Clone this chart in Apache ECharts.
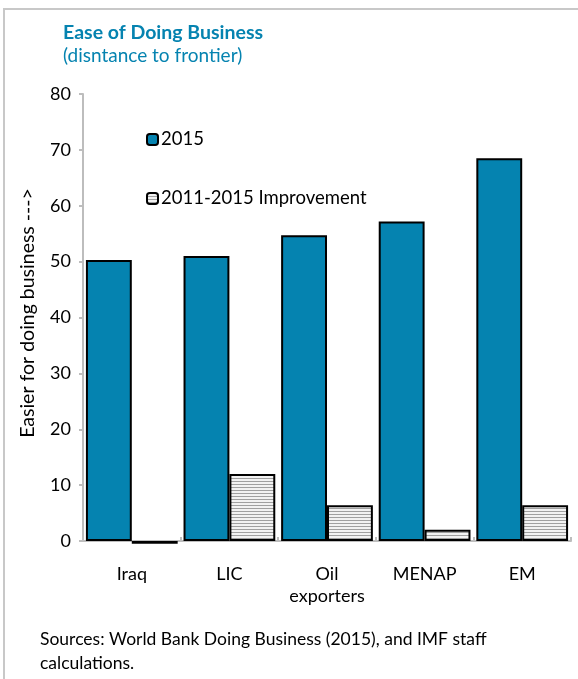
<!DOCTYPE html>
<html>
<head>
<meta charset="utf-8">
<script src="https://cdn.jsdelivr.net/npm/echarts@6/dist/echarts.min.js"></script>
<style>
    body { margin: 0; background: #fff; }
    #main { position: absolute; left: 3px; top: 8px; width: 580px; height: 680px; border: 2px solid #c8c8c8; box-sizing: border-box; }
</style>
</head>
<body>
<div id="main"></div>
<script>
const categories = ['Iraq', 'LIC', 'Oil\nexporters', 'MENAP', 'EM'];
const score2015 = [50.3, 51.0, 54.7, 57.2, 68.5];
const improvement = [-0.5, 12.0, 6.4, 2.0, 6.4];

// horizontal hatch fill
function hatch() {
    const c = document.createElement('canvas');
    c.width = 4; c.height = 3;
    const ctx = c.getContext('2d');
    ctx.fillStyle = '#f2f2f2';
    ctx.fillRect(0, 0, 4, 3);
    ctx.fillStyle = '#a0a0a0';
    ctx.fillRect(0, 0, 4, 1);
    return c;
}
const font = 'Lato';
const blue = '#0583b0';

const chart = echarts.init(document.getElementById('main'));
chart.setOption({
    textStyle: { fontFamily: font },
    title: {
        text: 'Ease of Doing Business',
        subtext: '(disntance to frontier)',
        left: 53, top: 8,
        itemGap: 3,
        textStyle: { color: blue, fontSize: 19.5, fontWeight: 'bold', fontFamily: font },
        subtextStyle: { color: blue, fontSize: 19, fontFamily: font }
    },
    legend: {
        orient: 'vertical',
        left: 136, top: 115,
        itemGap: 40,
        itemWidth: 11, itemHeight: 11,
        textStyle: { fontSize: 18.5, color: '#000', fontFamily: font, padding: [0, 0, 0, -2] },
        data: [
            { name: '2015', itemStyle: { color: blue, borderColor: '#000', borderWidth: 2 } },
            { name: '2011-2015 Improvement', itemStyle: { borderColor: '#000', borderWidth: 2 } }
        ]
    },
    grid: { left: 78, right: 10, top: 84, bottom: 145, containLabel: false },
    xAxis: {
        type: 'category',
        data: categories,
        axisLine: { lineStyle: { color: '#bdbdbd', width: 2 } },
        axisTick: { show: true, inside: true, length: 4, lineStyle: { color: '#bdbdbd', width: 2 } },
        axisLabel: { interval: 0, color: '#000', fontSize: 18, margin: 22, lineHeight: 22, fontFamily: font }
    },
    yAxis: {
        type: 'value',
        min: 0, max: 80, interval: 10,
        axisLine: { show: true, lineStyle: { color: '#bdbdbd', width: 2 } },
        axisTick: { show: true, length: 4, lineStyle: { color: '#bdbdbd', width: 2 } },
        splitLine: { show: false },
        axisLabel: { color: '#000', fontSize: 18, margin: 12, fontFamily: font }
    },
    series: [
        {
            name: '2015', type: 'bar', data: score2015,
            barGap: '0%', barCategoryGap: '6%',
            itemStyle: { color: blue, borderColor: '#000', borderWidth: 2 }
        },
        {
            name: '2011-2015 Improvement', type: 'bar', data: improvement,
            z: 3, clip: false,
            itemStyle: { color: { image: hatch(), repeat: 'repeat' }, borderColor: '#000', borderWidth: 2 }
        }
    ],
    graphic: [
        {
            type: 'text', x: 23, y: 303, rotation: Math.PI / 2,
            style: {
                text: 'Easier for doing business --->',
                font: '19.5px Lato', fill: '#000',
                textAlign: 'center', textVerticalAlign: 'middle'
            }
        },
        {
            type: 'text', left: 35, top: 617,
            style: {
                text: 'Sources: World Bank Doing Business (2015), and IMF staff\ncalculations.',
                font: '17.5px Lato', fill: '#000', lineHeight: 24
            }
        }
    ]
});
</script>
</body>
</html>
